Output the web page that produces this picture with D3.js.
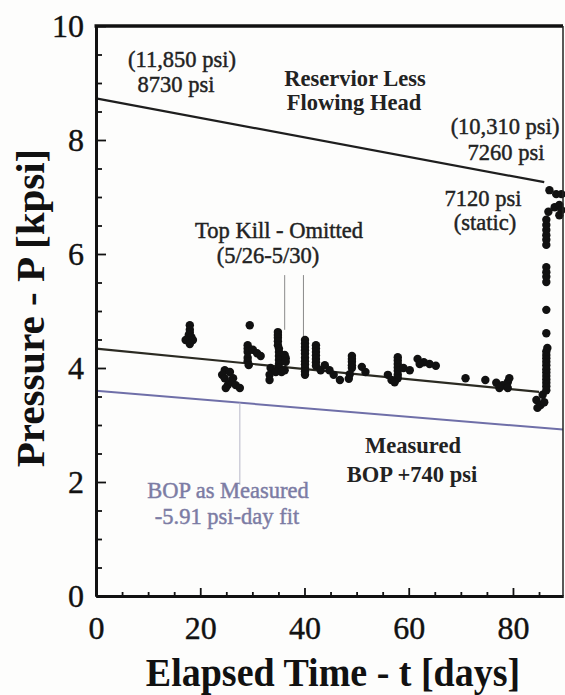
<!DOCTYPE html>
<html><head><meta charset="utf-8">
<script src="https://cdn.jsdelivr.net/npm/d3@7"></script>
<style>body{margin:0;background:#fff} svg{display:block}</style>
</head><body><svg id="c" width="565" height="695"></svg>
<script>
// ---- data ----
const xMajorTicks = [0, 20, 40, 60, 80];
const xMinorTicks = [5, 10, 15, 25, 30, 35, 45, 50, 55, 65, 70, 75, 85];
const yMajorTicks = [0, 2, 4, 6, 8, 10];
const yMinorTicks = [0.5, 1, 1.5, 2.5, 3, 3.5, 4.5, 5, 5.5, 6.5, 7, 7.5, 8.5, 9, 9.5];
const reservoirLine = [[0, 8.73], [86, 7.26]];
const measuredFit = [[0, 4.34], [85, 3.58]];
const bopFit = [[0, 3.60], [89.6, 2.92]];
const topKillPointers = [[36.2, 5.63, 4.67], [39.8, 5.63, 4.53]];
const bopPointer = [27.6, 1.95];
const pressurePoints = [
  [18.0,4.75],[18.0,4.67],[18.0,4.62],[17.8,4.58],[18.3,4.54],[17.2,4.49],[18.6,4.49],[18.0,4.42],
  [29.5,4.75],
  [29.1,4.40],[29.1,4.34],[29.1,4.28],[29.1,4.18],[29.1,4.12],[29.3,4.05],[30.1,4.32],[30.9,4.26],[31.6,4.21],
  [24.7,3.96],[25.7,3.93],[24.2,3.88],[24.7,3.82],[26.3,3.82],[26.0,3.76],[25.3,3.70],[26.8,3.70],[27.6,3.65],[24.9,3.65],
  [34.9,4.63],[34.9,4.58],[34.9,4.53],[34.9,4.47],[34.9,4.40],[35.1,4.34],[35.1,4.28],[35.1,4.21],[35.1,4.14],[35.1,4.07],[35.1,4.00],
  [33.5,4.00],[33.9,3.95],[33.3,3.88],[33.3,3.79],[36.2,4.23],[36.4,4.17],[36.4,4.11],[36.2,3.96],[34.5,3.93],[35.6,3.93],
  [40.1,4.49],[40.1,4.43],[40.1,4.37],[40.1,4.31],[40.1,4.25],[40.1,4.18],[40.1,4.12],[40.1,4.06],[40.1,4.00],[40.1,3.94],[40.1,3.88],
  [42.2,4.40],[42.2,4.34],[42.2,4.28],[42.2,4.22],[42.2,4.16],[42.2,4.10],[42.2,4.04],[43.1,3.96],[43.9,4.05],[44.8,3.96],[45.6,3.88],
  [46.8,3.79],
  [49.1,4.21],[49.1,4.16],[49.1,4.11],[49.1,4.05],[49.1,4.00],[48.7,3.89],[48.5,3.81],
  [51.0,4.02],[51.7,3.93],
  [57.9,4.19],[57.9,4.13],[57.9,4.07],[57.9,4.01],[57.9,3.95],[57.9,3.88],[57.9,3.82],[56.0,3.88],[56.7,3.79],[59.0,4.00],[60.2,3.96],[57.3,3.75],
  [61.7,4.16],[62.9,4.10],[64.0,4.07],[65.2,4.04],[62.1,4.07],
  [70.9,3.82],[74.7,3.79],
  [76.8,3.74],[78.0,3.70],[79.0,3.75],[79.3,3.82],[77.4,3.65],[79.0,3.65],
  [84.5,3.44],[85.3,3.35],[86.0,3.40],[84.7,3.30],[85.7,3.53],[86.4,3.61],[86.4,3.68],[86.4,3.74],[86.4,3.80],[86.4,3.86],
  [86.4,3.92],[86.4,3.98],[86.4,4.05],[86.4,4.11],[86.4,4.17],[86.4,4.23],[86.4,4.29],[86.6,4.35],[86.4,4.61],[86.4,5.02],
  [86.4,5.51],[86.4,5.60],[86.4,5.68],[86.4,5.77],[86.4,6.16],[86.4,6.25],[86.4,6.33],[86.4,6.42],[86.4,6.51],[86.4,6.60],
  [86.8,6.74],[88.0,6.82],[88.9,6.86],[89.3,6.77],[88.9,6.68],[87.0,7.12],[88.3,7.05],[89.3,7.05]
];

// ---- drawing ----
const svg = d3.select('#c');
const serif = '"Liberation Serif", "Times New Roman", serif';
const x = d3.scaleLinear().domain([0, 89.6]).range([96, 563]);
const y = d3.scaleLinear().domain([0, 10]).range([596, 26]);

svg.append('rect').attr('width', 565).attr('height', 695).attr('fill', '#fdfdfc');

const line = d3.line().x(d => x(d[0])).y(d => y(d[1]));

// fits
svg.append('path').datum(bopFit).attr('d', line).attr('fill', 'none')
  .attr('stroke', '#6f6fa8').attr('stroke-width', 2);
svg.append('path').datum(measuredFit).attr('d', line).attr('fill', 'none')
  .attr('stroke', '#2b2a22').attr('stroke-width', 2.2);
svg.append('path').datum(reservoirLine).attr('d', line).attr('fill', 'none')
  .attr('stroke', '#1e1e1e').attr('stroke-width', 2.2);

// pointers
svg.selectAll('.tk').data(topKillPointers).enter().append('line')
  .attr('x1', d => x(d[0])).attr('x2', d => x(d[0]))
  .attr('y1', d => y(d[1])).attr('y2', d => y(d[2]))
  .attr('stroke', '#8a8a8a').attr('stroke-width', 1);
const bopAt = bopFit[0][1] + (bopFit[1][1] - bopFit[0][1]) * bopPointer[0] / bopFit[1][0];
svg.append('line').attr('x1', x(bopPointer[0])).attr('x2', x(bopPointer[0]))
  .attr('y1', y(bopAt)).attr('y2', y(bopPointer[1]))
  .attr('stroke', '#b8b8c8').attr('stroke-width', 1);

// points
svg.selectAll('.pt').data(pressurePoints).enter().append('circle')
  .attr('cx', d => x(d[0])).attr('cy', d => y(d[1])).attr('r', 4.2)
  .attr('fill', '#111');

// axes with inward ticks
const gx = svg.append('g').attr('transform', 'translate(0,596)')
  .call(d3.axisBottom(x).tickValues(xMajorTicks).tickSizeInner(-8).tickSizeOuter(0).tickPadding(20));
const gxm = svg.append('g').attr('transform', 'translate(0,596)')
  .call(d3.axisBottom(x).tickValues(xMinorTicks).tickSizeInner(-4).tickSizeOuter(0).tickFormat(''));
const gy = svg.append('g').attr('transform', 'translate(96,0)')
  .call(d3.axisLeft(y).tickValues(yMajorTicks).tickSizeInner(-10).tickSizeOuter(0).tickPadding(12));
const gym = svg.append('g').attr('transform', 'translate(96,0)')
  .call(d3.axisLeft(y).tickValues(yMinorTicks).tickSizeInner(-6).tickSizeOuter(0).tickFormat(''));
[gx, gxm, gy, gym].forEach(g => {
  g.select('.domain').attr('stroke', '#111').attr('stroke-width', 3);
  g.selectAll('.tick line').attr('stroke', '#111').attr('stroke-width', 1.8);
  g.selectAll('.tick text').attr('font-family', serif).attr('font-size', 32).attr('fill', '#111')
    .attr('stroke', '#111').attr('stroke-width', 0.4);
});
gy.selectAll('.tick text').attr('dy', '0.34em');

// top & right frame
svg.append('line').attr('x1', x(0) - 1.5).attr('x2', x(89.6)).attr('y1', y(10)).attr('y2', y(10))
  .attr('stroke', '#111').attr('stroke-width', 3.5);
svg.append('line').attr('x1', x(89.6)).attr('x2', x(89.6)).attr('y1', y(10)).attr('y2', y(0))
  .attr('stroke', '#222').attr('stroke-width', 1.5);

// axis titles
svg.append('text').attr('transform', 'translate(333,686) scale(1,1.07)').attr('text-anchor', 'middle')
  .attr('font-family', serif).attr('font-weight', 'bold').attr('font-size', 38).attr('fill', '#111')
  .text('Elapsed Time - t [days]');
svg.append('text').attr('transform', 'translate(44,308) rotate(-90)').attr('text-anchor', 'middle')
  .attr('font-family', serif).attr('font-weight', 'bold').attr('font-size', 41).attr('fill', '#111')
  .text('Pressure - P [kpsi]');

// annotations
const notes = [
  ['(11,850 psi)', 182, 67, false, '#222'],
  ['8730 psi', 176, 92, false, '#222'],
  ['Reservior Less', 355, 86, true, '#222'],
  ['Flowing Head', 354, 110, true, '#222'],
  ['(10,310 psi)', 505, 134, false, '#222'],
  ['7260 psi', 506, 160, false, '#222'],
  ['7120 psi', 483, 206, false, '#222'],
  ['(static)', 485, 230, false, '#222'],
  ['Top Kill - Omitted', 279, 238, false, '#222'],
  ['(5/26-5/30)', 268, 263, false, '#222'],
  ['Measured', 413, 453, true, '#222'],
  ['BOP +740 psi', 412, 482, true, '#222'],
  ['BOP as Measured', 228, 498, false, '#7c7ca4'],
  ['-5.91 psi-day fit', 227, 524, false, '#7c7ca4']
];
svg.selectAll('.note').data(notes).enter().append('text')
  .attr('x', d => d[1]).attr('y', d => d[2])
  .attr('text-anchor', 'middle')
  .attr('font-family', serif).attr('font-size', 22.5)
  .attr('font-weight', d => d[3] ? 'bold' : 'normal')
  .attr('fill', d => d[4]).attr('stroke', d => d[4]).attr('stroke-width', d => d[3] ? 0 : 0.45)
  .text(d => d[0]);
</script></body></html>
